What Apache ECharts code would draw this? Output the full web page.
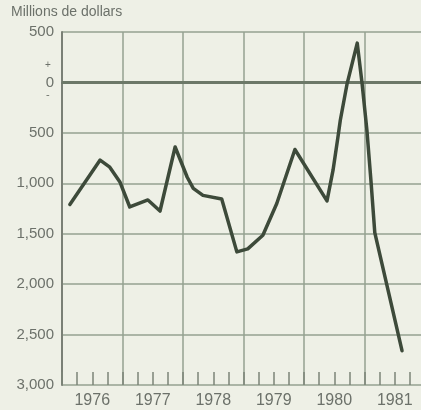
<!DOCTYPE html>
<html>
<head>
<meta charset="utf-8">
<script src="https://cdn.jsdelivr.net/npm/echarts@6/dist/echarts.min.js"></script>
<style>
html,body{margin:0;padding:0;background:#eef0e6;}
#c{width:421px;height:410px;}
</style>
</head>
<body>
<div id="c"></div>
<script>
// Data (decimal year positions, millions of dollars)
const periods = [1976.13,1976.63,1976.79,1976.96,1977.12,1977.42,1977.62,1977.87,1978.07,1978.17,1978.33,1978.64,1978.89,1979.07,1979.32,1979.55,1979.85,1980.38,1980.48,1980.56,1980.60,1980.71,1980.88,1980.96,1981.04,1981.11,1981.17,1981.62];
const balance = [-1210,-770,-840,-990,-1235,-1165,-1275,-640,-940,-1050,-1120,-1155,-1680,-1650,-1515,-1200,-665,-1175,-870,-545,-375,-20,390,-10,-475,-1000,-1490,-2660];
const years = ['1976','1977','1978','1979','1980','1981'];
const yTickValues = [500,0,-500,-1000,-1500,-2000,-2500,-3000];
const yTickLabels = ['500','0','500','1,000','1,500','2,000','2,500','3,000'];
const unitLabel = 'Millions de dollars';

const textColor = '#6c716a';
const gridColor = '#94a290';
const chart = echarts.init(document.getElementById('c'), null, {renderer:'canvas'});
const seriesData = periods.map((p,i)=>[p,balance[i]]);
chart.setOption({
  backgroundColor:'#eef0e6',
  animation:false,
  textStyle:{fontFamily:'Liberation Sans, Arial, sans-serif'},
  grid:{left:62, right:-4, top:32, bottom:25, containLabel:false, outerBoundsMode:'none'},
  graphic:[
    {type:'text', left:11, top:5, style:{text:unitLabel, fill:textColor, font:'14px "Liberation Sans", Arial, sans-serif'}},
    {type:'text', x:45, y:60, style:{text:'+', fill:textColor, font:'10px "Liberation Sans", Arial, sans-serif'}},
    {type:'text', x:46, y:89, style:{text:'-', fill:textColor, font:'11px "Liberation Sans", Arial, sans-serif'}}
  ],
  xAxis:[
    {type:'category', data:years, boundaryGap:true, position:'bottom',
     axisLine:{show:true, lineStyle:{color:'#6f756c', width:2}},
     axisTick:{show:false},
     axisLabel:{color:textColor, fontSize:16, margin:8},
     splitLine:{show:true, lineStyle:{color:gridColor, width:1.5}}},
    {type:'value', min:1976, max:1982, interval:0.25, position:'bottom',
     axisLine:{show:false},
     axisTick:{show:true, inside:true, length:13, lineStyle:{color:'#7c8478', width:1.5}},
     axisLabel:{show:false},
     splitLine:{show:false}}
  ],
  yAxis:{type:'value', min:-3000, max:500, interval:500,
    axisLine:{show:true, lineStyle:{color:'#7a8076', width:2}},
    axisTick:{show:false},
    axisLabel:{color:textColor, fontSize:15, margin:8,
      formatter:function(v){const i=yTickValues.indexOf(v);return i>=0?yTickLabels[i]:'';}},
    splitLine:{show:true, lineStyle:{color:gridColor, width:1.5}}},
  series:[{
    type:'line', xAxisIndex:1, data:seriesData, symbol:'none', smooth:false,
    lineStyle:{color:'#3d4a3a', width:3.5, join:'round', cap:'round'},
    markLine:{silent:true, symbol:'none', label:{show:false},
      lineStyle:{color:'#6c7868', width:3, type:'solid'},
      data:[{yAxis:0}]},
    z:5
  }]
});
</script>
</body>
</html>
